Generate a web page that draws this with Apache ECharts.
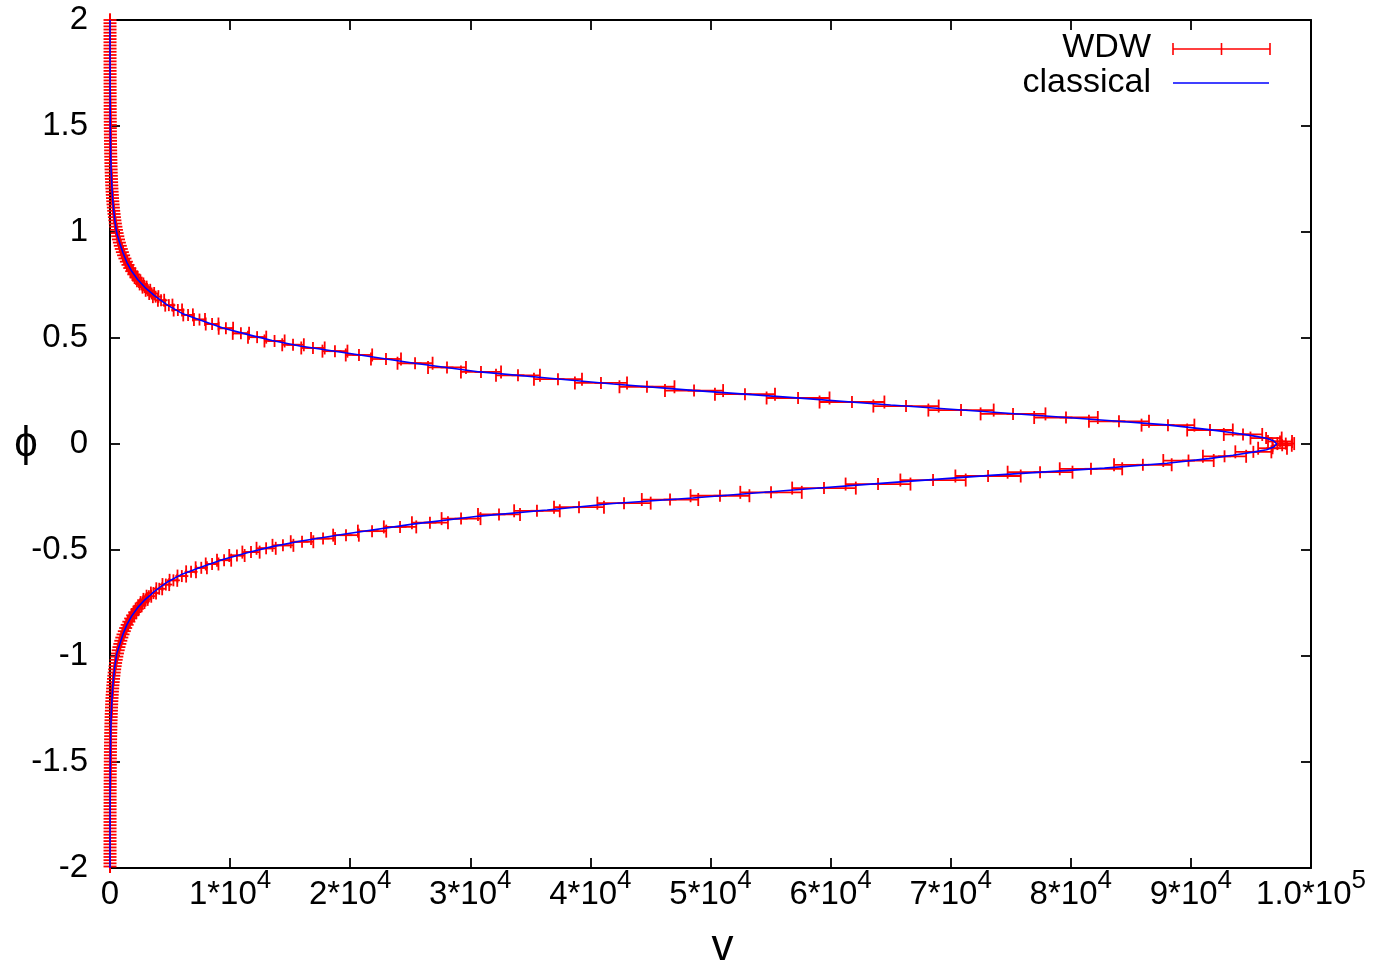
<!DOCTYPE html>
<html>
<head>
<meta charset="utf-8">
<script src="https://cdn.jsdelivr.net/npm/echarts@6/dist/echarts.min.js"></script>
<style>
html,body{margin:0;padding:0;background:#fff;}
#chart{width:1379px;height:970px;}
</style>
</head>
<body>
<div id="chart"></div>
<script>
// ---------------- data ----------------
const xTicks = [0, 10000, 20000, 30000, 40000, 50000, 60000, 70000, 80000, 90000, 100000];
const yTicks = [-2, -1.5, -1, -0.5, 0, 0.5, 1, 1.5, 2];

// classical solution: [v, phi]
const classicalUpper = [
  [1,2.0],[2,1.91],[4,1.80],[8,1.69],[15,1.585],[30,1.473],[60,1.362],[100,1.28],[140,1.235],
  [200,1.169],[275,1.12],[400,1.055],[560,0.995],[830,0.945],[1080,0.902],[1400,0.857],
  [1800,0.816],[2300,0.776],[2900,0.739],[3700,0.70],[4750,0.656],[6000,0.616],[7500,0.585],
  [9400,0.547],[11500,0.516],[13500,0.488],[15800,0.462],[19700,0.429],[25200,0.382],
  [30800,0.340],[36400,0.311],[41900,0.283],[48500,0.253],[56600,0.220],[65000,0.184],
  [73300,0.151],[82800,0.112],[88000,0.090],[91500,0.068],[93500,0.053],[95300,0.037],
  [96300,0.027],[96900,0.014],[97150,0.0]
];
const classicalLower = [
  [96900,-0.014],[96300,-0.027],[95300,-0.037],[93500,-0.053],[91500,-0.069],[88000,-0.091],
  [82800,-0.114],[73300,-0.148],[65000,-0.182],[56600,-0.218],[48500,-0.255],[41900,-0.281],
  [36400,-0.311],[30800,-0.340],[25200,-0.378],[19700,-0.423],[15800,-0.459],[13500,-0.484],
  [11500,-0.512],[9400,-0.545],[7500,-0.583],[6000,-0.614],[4750,-0.652],[3700,-0.695],
  [2900,-0.735],[2300,-0.772],[1800,-0.812],[1400,-0.853],[1080,-0.898],[830,-0.942],
  [560,-0.99],[400,-1.05],[275,-1.115],[200,-1.165],[140,-1.23],[100,-1.275],[60,-1.36],
  [30,-1.47],[15,-1.58],[8,-1.69],[4,-1.80],[2,-1.91],[1,-2.0]
];

// WDW points: [v, phi, v-error]
const wdwUpper = [
  [1,2.000,0],[1,1.985,0],[1,1.970,0],[1,1.955,0],[2,1.940,0],[2,1.925,0],[2,1.910,0],[2,1.895,0],
  [2,1.880,0],[3,1.865,0],[3,1.850,0],[3,1.835,0],[3,1.820,0],[4,1.805,0],[4,1.790,0],[5,1.775,0],
  [5,1.760,0],[6,1.745,0],[6,1.730,0],[7,1.715,0],[7,1.700,0],[8,1.685,0],[9,1.670,0],[10,1.655,0],
  [11,1.640,0],[12,1.625,0],[13,1.610,0],[14,1.595,0],[15,1.580,0],[17,1.565,0],[19,1.550,0],
  [21,1.535,0],[23,1.520,0],[25,1.505,0],[27,1.490,0],[30,1.475,0],[33,1.460,0],[36,1.445,0],
  [40,1.430,0],[43,1.415,0],[48,1.400,0],[52,1.385,0],[57,1.370,0],[63,1.355,0],[69,1.340,0],
  [76,1.325,0],[83,1.310,0],[91,1.295,0],[100,1.280,0],[110,1.265,0],[121,1.250,0],[133,1.235,0],
  [146,1.220,0],[160,1.205,0],[175,1.190,0],[193,1.175,0],[211,1.160,0],[232,1.145,0],
  [255,1.130,0],[280,1.115,0],[307,1.100,0],
  [337,1.085,20],[369,1.070,22],[406,1.055,24],[445,1.040,27],[489,1.025,29],[537,1.010,32],
  [589,0.995,35],[647,0.980,39],[710,0.965,43],[780,0.950,47],[856,0.935,51],[940,0.920,56],
  [1031,0.905,62],[1132,0.890,68],[1243,0.875,75],[1365,0.860,82],[1498,0.845,90],
  [1645,0.830,99],[1806,0.815,108],[1982,0.800,119],[2176,0.785,131],[2389,0.770,143],
  [2623,0.755,157],[2879,0.740,173],[3161,0.725,190],[3470,0.710,208],
  [3800,0.695,230],[4250,0.678,260],[4900,0.655,300],[5650,0.632,350],[6500,0.609,400],
  [7450,0.587,460],[8500,0.566,530],[9650,0.546,600],[10900,0.522,680],[12250,0.504,760],
  [13700,0.486,840],[15240,0.468,900],[16900,0.453,975],[18730,0.438,1040],[20730,0.420,1100],
  [22980,0.401,1250],[25400,0.381,1460],[28060,0.361,1580],[30890,0.340,1670],[33970,0.324,1830],
  [37300,0.306,2000],[40880,0.288,2170],[44710,0.270,2290],[48630,0.252,2420],[52870,0.235,2500],
  [57290,0.217,2620],[61780,0.198,2700],[66280,0.179,2720],[70860,0.160,2720],[75190,0.142,2700],
  [79600,0.125,2650],[84010,0.107,2500],[88090,0.089,2200],[91590,0.066,1900],[94340,0.045,1600],
  [96260,0.028,1300],[97420,0.012,1000],[97900,0.002,700]
];
const wdwLower = [
  [97600,-0.006,800],[96800,-0.020,1200],[95200,-0.037,1500],[92800,-0.058,1800],[89800,-0.078,2100],
  [86000,-0.098,2400],[81680,-0.117,2600],[77440,-0.133,2700],[73110,-0.151,2720],[68530,-0.170,2720],
  [63950,-0.189,2700],[59450,-0.208,2650],[55040,-0.228,2560],[50790,-0.244,2450],[46630,-0.262,2350],
  [42800,-0.279,2220],[39050,-0.298,2080],[35550,-0.315,1900],[32390,-0.332,1750],[29230,-0.352,1620],
  [26640,-0.371,1500],[24150,-0.391,1350],[21820,-0.411,1180],[19650,-0.430,1070],[17740,-0.446,1000],
  [15990,-0.461,940],[14400,-0.478,870],[13000,-0.492,800],[11740,-0.510,720],[10570,-0.526,640],
  [9500,-0.548,590],[8500,-0.566,530],[7600,-0.584,470],[6750,-0.603,410],[5980,-0.623,360],
  [5280,-0.643,320],[4650,-0.663,280],[4100,-0.683,245],[3620,-0.703,215],
  [3240,-0.718,195],[2960,-0.733,178],[2710,-0.748,163],[2490,-0.763,150],[2270,-0.778,136],
  [2070,-0.793,124],[1890,-0.808,113],[1720,-0.823,103],[1570,-0.838,94],[1430,-0.853,86],
  [1305,-0.868,78],[1190,-0.883,71],[1085,-0.898,65],[985,-0.913,59],[900,-0.928,54],
  [820,-0.943,49],[745,-0.958,45],[680,-0.973,41],[620,-0.988,37],[565,-1.003,34],[515,-1.018,31],
  [465,-1.033,28],[425,-1.048,25],[385,-1.063,23],[350,-1.078,21],[320,-1.093,19],
  [290,-1.108,0],[265,-1.123,0],[240,-1.138,0],[220,-1.153,0],[200,-1.168,0],[182,-1.183,0],
  [166,-1.198,0],[151,-1.213,0],[138,-1.228,0],[126,-1.243,0],[115,-1.258,0],[104,-1.273,0],
  [95,-1.288,0],[87,-1.303,0],[79,-1.318,0],[72,-1.333,0],[66,-1.348,0],[60,-1.363,0],
  [55,-1.378,0],[50,-1.393,0],[45,-1.408,0],[41,-1.423,0],[38,-1.438,0],[34,-1.453,0],
  [31,-1.468,0],[28,-1.483,0],[26,-1.498,0],[24,-1.513,0],[21,-1.528,0],[19,-1.543,0],
  [18,-1.558,0],[16,-1.573,0],[15,-1.588,0],[13,-1.603,0],[12,-1.618,0],[11,-1.633,0],
  [10,-1.648,0],[9,-1.663,0],[8,-1.678,0],[8,-1.693,0],[7,-1.708,0],[6,-1.723,0],[6,-1.738,0],
  [5,-1.753,0],[5,-1.768,0],[4,-1.783,0],[4,-1.798,0],[4,-1.813,0],[3,-1.828,0],[3,-1.843,0],
  [3,-1.858,0],[2,-1.873,0],[2,-1.888,0],[2,-1.903,0],[2,-1.918,0],[2,-1.933,0],[1,-1.948,0],
  [1,-1.963,0],[1,-1.978,0],[1,-1.993,0]
];

// ---------------- chart ----------------
const FONT = '"Liberation Sans", Arial, sans-serif';
const RED = '#ff0000', BLUE = '#0000ff';
const chart = echarts.init(document.getElementById('chart'), null, {renderer: 'canvas'});

function xLabel(v) {
  if (v === 0) return '{z|0}';
  if (v === 100000) return '{b|1.0*10}{s|5}';
  return '{b|' + Math.round(v / 10000) + '*10}{s|4}';
}

function renderErr(params, api) {
  const v = api.value(0), phi = api.value(1), e = api.value(2);
  const c = api.coord([v, phi]);
  const l = api.coord([v - e, phi]);
  const r = api.coord([v + e, phi]);
  const h = 6.5, hc = 6, pw = 6.5;
  const st = {stroke: RED, lineWidth: 1.8};
  return {
    type: 'group',
    children: [
      {type: 'line', shape: {x1: l[0], y1: c[1], x2: r[0], y2: c[1]}, style: st},
      {type: 'line', shape: {x1: l[0], y1: c[1] - h, x2: l[0], y2: c[1] + h}, style: st},
      {type: 'line', shape: {x1: r[0], y1: c[1] - h, x2: r[0], y2: c[1] + h}, style: st},
      {type: 'line', shape: {x1: c[0] - pw, y1: c[1], x2: c[0] + pw, y2: c[1]}, style: st},
      {type: 'line', shape: {x1: c[0], y1: c[1] - hc, x2: c[0], y2: c[1] + hc}, style: st}
    ]
  };
}

const axisCommon = {
  axisLine: {show: true, onZero: false, lineStyle: {color: '#000', width: 2}},
  axisTick: {show: true, inside: true, length: 10, lineStyle: {color: '#000', width: 1.8}},
  splitLine: {show: false}
};

const option = {
  animation: false,
  backgroundColor: '#fff',
  grid: {left: 110, right: 68, top: 20, bottom: 102, containLabel: false, outerBoundsMode: 'none'},
  xAxis: [
    Object.assign({
      type: 'value', position: 'bottom', min: 0, max: 100000, interval: 10000,
      name: 'v', nameLocation: 'middle', nameGap: 80, nameMoveOverlap: false,
      nameTextStyle: {fontFamily: FONT, fontSize: 44, color: '#000', verticalAlign: 'middle', padding: [0, 0, 0, 24]},
      axisLabel: {
        show: true, margin: 11, color: '#000', fontFamily: FONT, fontSize: 33,
        formatter: xLabel, hideOverlap: false,
        rich: {
          b: {fontFamily: FONT, fontSize: 33, lineHeight: 32, color: '#000', verticalAlign: 'bottom'},
          s: {fontFamily: FONT, fontSize: 26, lineHeight: 26, color: '#000', verticalAlign: 'bottom', padding: [0, 0, 17, 0]},
          z: {fontFamily: FONT, fontSize: 33, lineHeight: 32, color: '#000', verticalAlign: 'bottom', padding: [11, 0, 0, 0]}
        }
      }
    }, axisCommon),
    Object.assign({
      type: 'value', position: 'top', min: 0, max: 100000, interval: 10000,
      axisLabel: {show: false}
    }, axisCommon)
  ],
  yAxis: [
    Object.assign({
      type: 'value', position: 'left', min: -2, max: 2, interval: 0.5,
      name: 'ϕ', nameLocation: 'middle', nameGap: 84, nameRotate: 0, nameMoveOverlap: false,
      nameTextStyle: {fontFamily: FONT, fontSize: 42, color: '#000', align: 'center', verticalAlign: 'middle'},
      axisLabel: {show: true, margin: 22, color: '#000', fontFamily: FONT, fontSize: 33,
        formatter: v => String(v)}
    }, axisCommon),
    Object.assign({
      type: 'value', position: 'right', min: -2, max: 2, interval: 0.5,
      axisLabel: {show: false}
    }, axisCommon)
  ],
  series: [
    {
      name: 'WDW', type: 'custom', renderItem: renderErr, clip: false,
      xAxisIndex: 0, yAxisIndex: 0, z: 2,
      encode: {x: 0, y: 1},
      itemStyle: {color: RED},
      data: wdwUpper.concat(wdwLower)
    },
    {
      name: 'classical', type: 'line', xAxisIndex: 0, yAxisIndex: 0, z: 3,
      showSymbol: false, symbol: 'none', smooth: false,
      lineStyle: {color: BLUE, width: 1.6},
      data: classicalUpper.concat(classicalLower)
    }
  ],
  graphic: [
    {type: 'text', x: 1151, y: 48,
      style: {text: 'WDW', fontFamily: FONT, fontSize: 34, fill: '#000', align: 'right', verticalAlign: 'middle'}},
    {type: 'line', shape: {x1: 1173, y1: 49, x2: 1270, y2: 49}, style: {stroke: RED, lineWidth: 1.6}},
    {type: 'line', shape: {x1: 1173, y1: 43, x2: 1173, y2: 55}, style: {stroke: RED, lineWidth: 1.6}},
    {type: 'line', shape: {x1: 1221.5, y1: 43, x2: 1221.5, y2: 55}, style: {stroke: RED, lineWidth: 1.6}},
    {type: 'line', shape: {x1: 1270, y1: 43, x2: 1270, y2: 55}, style: {stroke: RED, lineWidth: 1.6}},
    {type: 'text', x: 1151, y: 83,
      style: {text: 'classical', fontFamily: FONT, fontSize: 34, fill: '#000', align: 'right', verticalAlign: 'middle'}},
    {type: 'line', shape: {x1: 1173, y1: 83, x2: 1269, y2: 83}, style: {stroke: BLUE, lineWidth: 1.6}}
  ]
};
chart.setOption(option);
</script>
</body>
</html>
